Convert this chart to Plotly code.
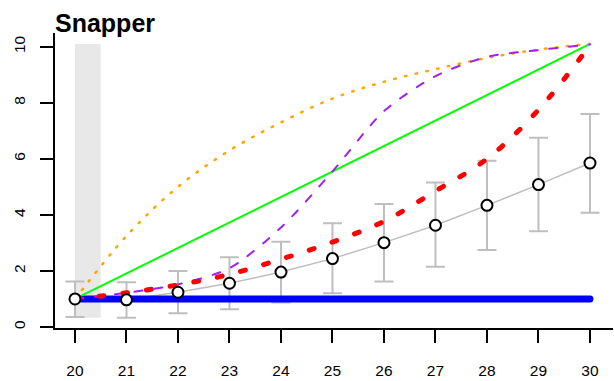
import plotly.graph_objects as go

# ---- data -------------------------------------------------------------
years = [20, 21, 22, 23, 24, 25, 26, 27, 28, 29, 30]

# observed index with interval
obs_mean = [1.00, 0.97, 1.24, 1.56, 1.96, 2.44, 3.01, 3.63, 4.34, 5.08, 5.85]
obs_lo = [0.36, 0.33, 0.49, 0.63, 0.87, 1.20, 1.62, 2.15, 2.75, 3.42, 4.08]
obs_hi = [1.62, 1.60, 2.00, 2.49, 3.04, 3.70, 4.39, 5.16, 5.93, 6.75, 7.60]

# trajectories
flat_x = [20, 30]
flat_y = [1.0, 1.0]
linear_x = [20, 30]
linear_y = [1.0, 10.1]
fast_y = [1.0, 3.25, 5.0, 6.3, 7.3, 8.15, 8.75, 9.2, 9.6, 9.9, 10.1]
sigmoid_y = [1.0, 1.22, 1.52, 2.1, 3.55, 5.55, 7.7, 8.95, 9.64, 9.88, 10.08]
slow_y = [1.0, 1.22, 1.50, 1.88, 2.42, 3.03, 3.77, 4.85, 6.0, 7.75, 10.05]

# shaded reference period
shade_x = [20, 20.5]
shade_y = [0.33, 10.1]

x_ticks = [20, 21, 22, 23, 24, 25, 26, 27, 28, 29, 30]
y_ticks = [0, 2, 4, 6, 8, 10]
title_text = "Snapper"

# ---- figure -----------------------------------------------------------
GRAY = "#BEBEBE"
FONT = "Liberation Sans, Arial, Helvetica, sans-serif"

err_plus = [h - m for h, m in zip(obs_hi, obs_mean)]
err_minus = [m - l for m, l in zip(obs_mean, obs_lo)]

fig = go.Figure()

# observed line with error bars (markers added last so they sit on top)
fig.add_trace(go.Scatter(
    x=years, y=obs_mean, mode="lines",
    line=dict(color=GRAY, width=1.5),
    error_y=dict(type="data", array=err_plus, arrayminus=err_minus,
                 color=GRAY, thickness=2, width=9.5),
    hoverinfo="skip", showlegend=False,
))

fig.add_trace(go.Scatter(
    x=flat_x, y=flat_y, mode="lines",
    line=dict(color="#0000FF", width=7), showlegend=False,
))
fig.add_trace(go.Scatter(
    x=linear_x, y=linear_y, mode="lines",
    line=dict(color="#00FF00", width=2), showlegend=False,
))
fig.add_trace(go.Scatter(
    x=years, y=fast_y, mode="lines",
    line=dict(color="#FFA500", width=2.5, dash="1.5px,9.5px",
              shape="spline", smoothing=1),
    showlegend=False,
))
fig.add_trace(go.Scatter(
    x=years, y=sigmoid_y, mode="lines",
    line=dict(color="#A020F0", width=2, dash="8px,12px",
              shape="spline", smoothing=0.8),
    showlegend=False,
))
fig.add_trace(go.Scatter(
    x=years, y=slow_y, mode="lines",
    line=dict(color="#FF0000", width=5, dash="5px,19px",
              shape="spline", smoothing=1),
    showlegend=False,
))

fig.add_trace(go.Scatter(
    x=years, y=obs_mean, mode="markers",
    marker=dict(size=11, color="white", line=dict(color="black", width=2)),
    showlegend=False,
))

fig.add_shape(type="rect", xref="x", yref="y",
              x0=shade_x[0], x1=shade_x[1], y0=shade_y[0], y1=shade_y[1],
              fillcolor="#E8E8E8", line=dict(width=0), layer="below")

fig.add_annotation(
    text=f"<b>{title_text}</b>", xref="paper", yref="paper",
    x=0, y=1, xanchor="left", yanchor="bottom", showarrow=False,
    font=dict(family=FONT, size=25, color="black"), xshift=-2, yshift=-6,
)

axis_common = dict(
    showline=True, linecolor="black", linewidth=2,
    ticks="outside", ticklen=13, tickwidth=2, tickcolor="black",
    showgrid=False, zeroline=False, mirror=False,
    tickfont=dict(family=FONT, size=15.5, color="black"),
)

fig.update_layout(
    width=614, height=381,
    margin=dict(l=55, r=1, t=33, b=53),
    plot_bgcolor="white", paper_bgcolor="white",
    xaxis=dict(range=[19.612, 30.447], tickvals=x_ticks,
               ticklabelstandoff=14, **axis_common),
    yaxis=dict(range=[-0.036, 10.49], tickvals=y_ticks, tickangle=-90,
               ticklabelstandoff=9, **axis_common),
)

# round line caps for every drawn line
fig.write_html(
    "out.html",
    post_script=(
        "document.querySelectorAll('.scatterlayer .js-line')"
        ".forEach(function(p){p.style.strokeLinecap='round';});"
    ),
)
